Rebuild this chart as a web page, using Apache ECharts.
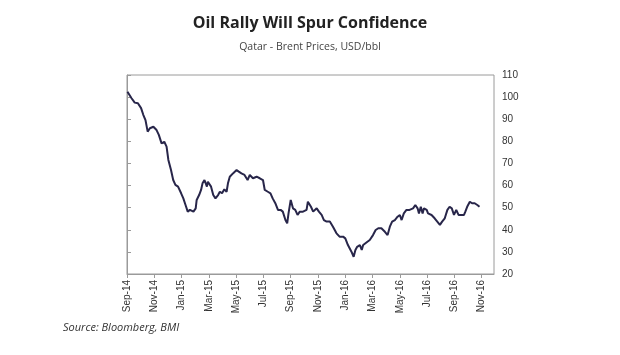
<!DOCTYPE html>
<html><head><meta charset="utf-8">
<script src="https://cdn.jsdelivr.net/npm/echarts@6/dist/echarts.min.js"></script>
<style>html,body{margin:0;padding:0;background:#fff}#c{width:620px;height:355px}</style>
</head><body><div id="c"></div>
<script>
const dates = [
"2014-09-02","2014-09-11","2014-09-18","2014-09-25","2014-10-02","2014-10-07","2014-10-12","2014-10-17","2014-10-22","2014-10-30",
"2014-11-06","2014-11-11","2014-11-17","2014-11-23","2014-11-28","2014-12-02","2014-12-08","2014-12-13","2014-12-18","2014-12-24",
"2014-12-31","2015-01-05","2015-01-10","2015-01-15","2015-01-20","2015-01-28","2015-02-02","2015-02-04","2015-02-09","2015-02-13",
"2015-02-16","2015-02-20","2015-02-25","2015-02-27","2015-03-06","2015-03-11","2015-03-16","2015-03-22","2015-03-26","2015-03-31",
"2015-04-05","2015-04-10","2015-04-13","2015-04-17","2015-04-24","2015-05-02","2015-05-07","2015-05-13","2015-05-20","2015-05-27",
"2015-06-01","2015-06-08","2015-06-16","2015-06-23","2015-06-30","2015-07-04","2015-07-11","2015-07-17","2015-07-22","2015-07-28",
"2015-08-03","2015-08-09","2015-08-14","2015-08-20","2015-08-24","2015-08-27","2015-09-01","2015-09-06","2015-09-11","2015-09-16",
"2015-09-21","2015-09-28","2015-10-06","2015-10-09","2015-10-16","2015-10-21","2015-10-29","2015-11-03","2015-11-09","2015-11-14",
"2015-11-20","2015-11-27","2015-12-04","2015-12-12","2015-12-19","2015-12-27","2016-01-01","2016-01-07","2016-01-15","2016-01-20",
"2016-01-24","2016-01-28","2016-02-03","2016-02-07","2016-02-10","2016-02-14","2016-02-19","2016-02-24","2016-03-02","2016-03-08",
"2016-03-14","2016-03-21","2016-03-29","2016-04-04","2016-04-09","2016-04-14","2016-04-20","2016-04-26","2016-05-01","2016-05-05",
"2016-05-10","2016-05-16","2016-05-23","2016-05-31","2016-06-05","2016-06-10","2016-06-13","2016-06-17","2016-06-21","2016-06-24",
"2016-06-30","2016-07-03","2016-07-11","2016-07-18","2016-07-24","2016-07-30","2016-08-04","2016-08-10","2016-08-16","2016-08-21",
"2016-08-26","2016-08-31","2016-09-05","2016-09-10","2016-09-16","2016-09-22","2016-09-25","2016-09-29","2016-10-05","2016-10-10",
"2016-10-16","2016-10-22","2016-10-27"
];
const prices = [
102.4,99.5,97.5,97.2,95.0,92.0,89.6,84.4,85.9,86.6,
85.1,82.9,79.1,79.8,77.6,71.6,67.0,62.5,60.3,59.5,
56.5,54.2,51.2,48.2,49.0,48.2,49.7,53.5,55.7,58.0,
61.0,62.5,59.5,61.7,59.5,55.7,54.2,55.7,57.2,56.5,
58.3,57.2,61.0,64.0,65.5,67.0,66.3,65.5,64.8,62.5,
64.8,63.3,64.0,63.3,62.5,58.0,57.2,56.5,54.2,52.0,
49.0,49.0,48.2,44.4,42.9,47.4,53.5,49.7,49.0,46.7,
48.2,48.2,49.0,52.7,50.4,48.2,49.7,48.2,46.7,44.4,
43.7,43.7,41.4,38.4,36.9,36.9,36.1,33.1,30.1,27.8,
30.9,32.3,33.1,30.9,33.1,32.3,34.6,35.4,37.6,39.9,
40.7,40.7,39.1,37.6,41.4,43.7,44.4,45.9,46.7,44.4,
47.4,49.0,49.0,49.7,51.2,49.7,47.4,50.4,47.4,49.7,
49.0,47.4,46.7,45.2,43.7,42.2,43.7,45.2,49.0,50.4,
49.7,46.7,49.0,46.7,46.7,46.7,48.2,50.4,52.7,52.0,
52.0,51.2,50.4
];
const xTickLabels = ["Sep-14","Nov-14","Jan-15","Mar-15","May-15","Jul-15","Sep-15","Nov-15","Jan-16","Mar-16","May-16","Jul-16","Sep-16","Nov-16"];
const titleText = "Oil Rally Will Spur Confidence";
const subtitleText = "Qatar - Brent Prices, USD/bbl";
const sourceText = "Source: Bloomberg, BMI";

function monthIndex(s){
  const [y,m,d] = s.split('-').map(Number);
  const dim = new Date(y, m, 0).getDate();
  return (y-2014)*12 + (m-9) + (d-1)/dim;
}
const seriesData = dates.map((d,i)=>[monthIndex(d), prices[i]]);

const chart = echarts.init(document.getElementById('c'), null, {renderer:'canvas'});
chart.setOption({
  animation:false,
  backgroundColor:'#fff',
  title:{
    text:titleText, subtext:subtitleText, left:'center', top:10, itemGap:11,
    textStyle:{fontFamily:'Open Sans', fontWeight:'bold', fontSize:16, color:'#222'},
    subtextStyle:{fontFamily:'Open Sans', fontSize:10.5, color:'#444'}
  },
  grid:{left:127, right:126, top:75, bottom:81, show:true, borderColor:'#9a9a9a', borderWidth:1, containLabel:false},
  xAxis:{
    type:'value', min:0, max:26.9, interval:2,
    axisLine:{show:true, lineStyle:{color:'#9a9a9a'}},
    axisTick:{show:true, length:4, lineStyle:{color:'#9a9a9a'}},
    splitLine:{show:false},
    axisLabel:{
      rotate:90, margin:6, fontFamily:'Liberation Sans', fontSize:10, color:'#333',
      showMaxLabel:false,
      formatter:function(v){ const i = Math.round(v/2); return (Math.abs(v - i*2) < 1e-6 && xTickLabels[i]) ? xTickLabels[i] : ''; }
    }
  },
  yAxis:{
    type:'value', position:'right', min:20, max:110, interval:10,
    axisLine:{show:true, lineStyle:{color:'#9a9a9a'}},
    axisTick:{show:true, length:4, lineStyle:{color:'#9a9a9a'}},
    splitLine:{show:false},
    axisLabel:{margin:8, fontFamily:'Liberation Sans', fontSize:10, color:'#333'}
  },
  series:[{
    type:'line', data:seriesData, showSymbol:false, symbol:'none',
    lineStyle:{color:'#28264a', width:2}
  }],
  graphic:[{
    type:'text', left:63, top:322,
    style:{text:sourceText, font:'italic 11px "Open Sans"', fill:'#333'}
  }]
});
</script>
</body></html>
